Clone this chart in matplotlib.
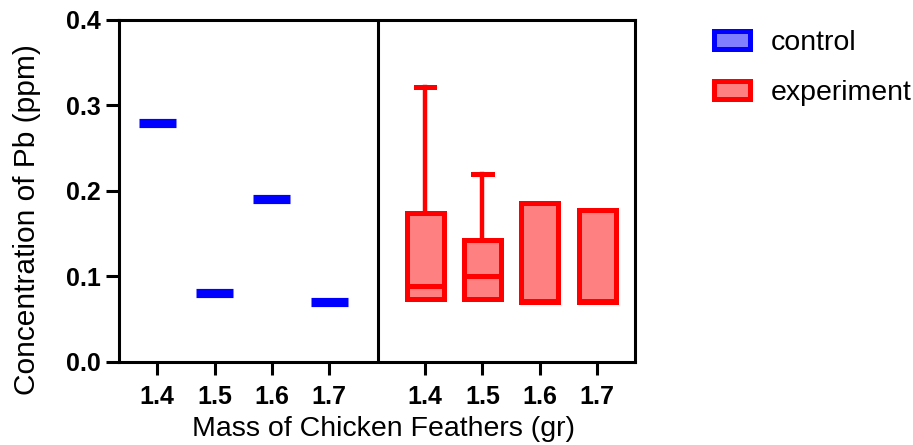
import matplotlib
matplotlib.use("Agg")
import matplotlib.pyplot as plt
from matplotlib.patches import Patch

plt.rcParams['font.family'] = ['Liberation Sans', 'DejaVu Sans']

categories = ["1.4", "1.5", "1.6", "1.7"]
control_values = [0.28, 0.08, 0.19, 0.07]
# experiment box stats: q1, median, q3, max
exp_q1 = [0.073, 0.073, 0.070, 0.070]
exp_med = [0.089, 0.100, 0.071, 0.071]
exp_q3 = [0.174, 0.142, 0.186, 0.177]
exp_max = [0.321, 0.220, 0.186, 0.177]

DPI = 100
fig = plt.figure(figsize=(9.13, 4.45), dpi=DPI)
ax = fig.add_axes([119 / 913, 1 - 361.7 / 445, 516 / 913, 341.7 / 445])

ctrl_pos = [0, 1, 2, 3]
exp_pos = [4.67 + i for i in range(4)]
bw = 0.645

ax.hlines(control_values, [p - bw / 2 for p in ctrl_pos], [p + bw / 2 for p in ctrl_pos],
          colors='#0000ff', linewidth=6.6, capstyle='butt', zorder=3)

stats = []
for i in range(4):
    stats.append(dict(q1=exp_q1[i], med=exp_med[i], q3=exp_q3[i],
                      whislo=exp_q1[i], whishi=exp_max[i], fliers=[]))
lw = 3.6
ax.bxp(stats, positions=exp_pos, widths=bw, patch_artist=True, showfliers=False,
       boxprops=dict(facecolor='#ff8080', edgecolor='#ff0000', linewidth=lw),
       medianprops=dict(color='#ff0000', linewidth=lw),
       whiskerprops=dict(color='#ff0000', linewidth=3.2),
       capprops=dict(color='#ff0000', linewidth=lw),
       capwidths=bw * 0.5, manage_ticks=False)

ax.axvline(3.855, color='black', linewidth=2.2, zorder=1)

ax.set_xlim(-0.668, 8.332)
ax.set_ylim(0, 0.4)
ax.set_yticks([0.0, 0.1, 0.2, 0.3, 0.4])
ax.set_yticklabels(["0.0", "0.1", "0.2", "0.3", "0.4"])
ax.set_xticks(ctrl_pos + exp_pos)
ax.set_xticklabels(categories + categories)

for s in ax.spines.values():
    s.set_linewidth(2.2)
ax.tick_params(axis='both', width=2.2, length=9.5, labelsize=18)
ax.tick_params(axis='x', pad=7)
ax.tick_params(axis='y', pad=3.5)
for lab in ax.get_xticklabels() + ax.get_yticklabels():
    lab.set_fontweight('bold')

ax.set_xlabel("Mass of Chicken Feathers (gr)", fontsize=20.5, labelpad=5)
ax.xaxis.label.set_x(0.5 + 6 / 516)
ax.set_ylabel("Concentration of Pb (ppm)", fontsize=21.5, labelpad=18)
ax.yaxis.label.set_y(0.415)

handles = [Patch(facecolor='#8080ff', edgecolor='#0000ff', linewidth=3.6),
           Patch(facecolor='#ff8080', edgecolor='#ff0000', linewidth=3.6)]
fig.legend(handles, ["control", "experiment"], loc='upper left',
           bbox_to_anchor=(714 / 913, 1 - 30 / 445), frameon=False, fontsize=20.5,
           borderpad=0, borderaxespad=0, handlelength=1.25, handleheight=0.62,
           handletextpad=0.75, labelspacing=0.85)

fig.savefig("out.png", dpi=DPI)
